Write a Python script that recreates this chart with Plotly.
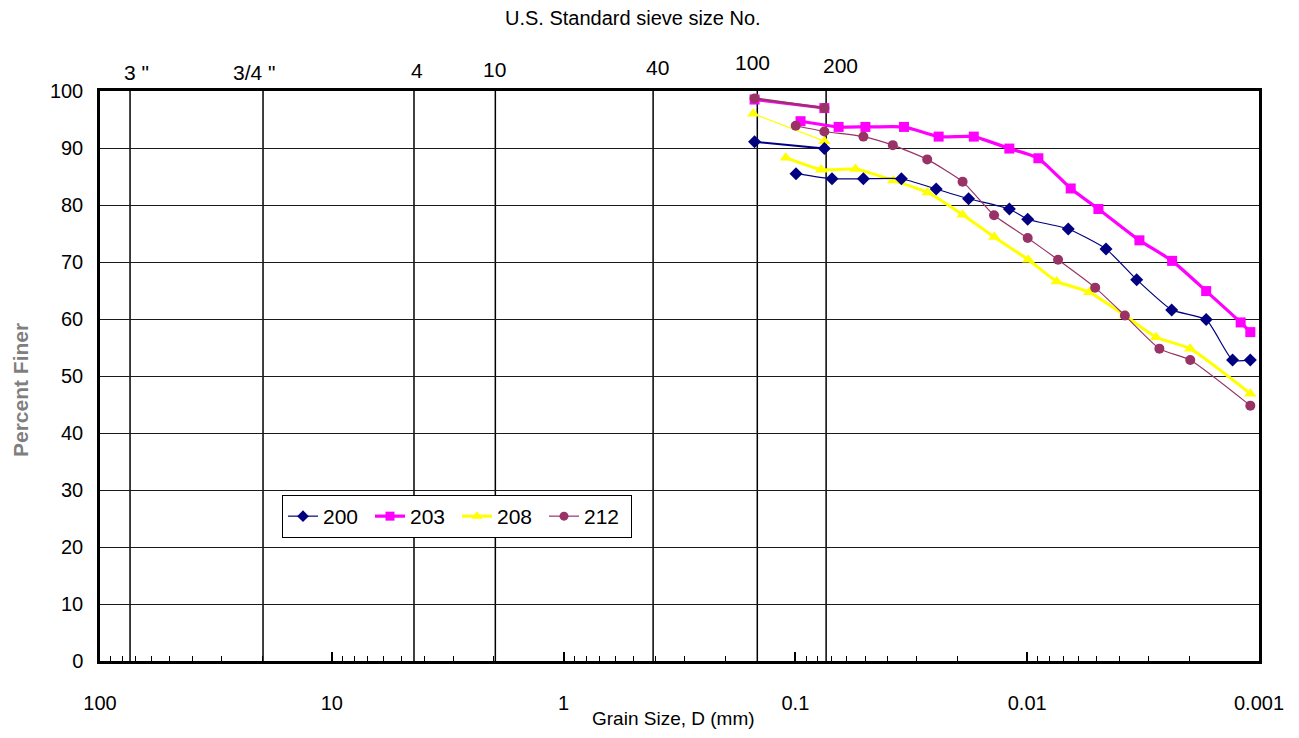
import math
import plotly.graph_objects as go

# ---------------- data ----------------
sieve_mm = [74.2, 19.8, 4.42, 1.97, 0.411, 0.146, 0.0737]
sieve_labels = ['3 "', '3/4 "', '4', '10', '40', '100', '200']

x_tick_vals = [100, 10, 1, 0.1, 0.01, 0.001]
x_tick_text = ['100', '10', '1', '0.1', '0.01', '0.001']

series_names = ['200', '203', '208', '212']

# sieve analysis part
s200_sieve_d = [0.15, 0.075]
s200_sieve_p = [91.1, 89.9]
s203_sieve_d = [0.15, 0.075]
s203_sieve_p = [98.5, 97.0]
s208_sieve_d = [0.152, 0.075]
s208_sieve_p = [96.0, 91.2]
s212_sieve_d = [0.15, 0.075]
s212_sieve_p = [98.7, 97.0]

# hydrometer part
s200_hyd_d = [0.0994, 0.0695, 0.0509, 0.0349, 0.0247, 0.0179, 0.01194, 0.00995,
              0.00665, 0.00457, 0.00337, 0.00238, 0.00169, 0.00130, 0.00109]
s200_hyd_p = [85.5, 84.6, 84.6, 84.6, 82.8, 81.1, 79.3, 77.5,
              75.8, 72.3, 66.9, 61.6, 59.9, 52.8, 52.8]

s203_hyd_d = [0.0950, 0.0651, 0.0499, 0.0340, 0.0241, 0.0170, 0.01194, 0.00895,
              0.00649, 0.00493, 0.00328, 0.00237, 0.00169, 0.00120, 0.00109]
s203_hyd_p = [94.7, 93.7, 93.7, 93.7, 92.0, 92.0, 89.9, 88.2,
              82.9, 79.3, 73.8, 70.2, 64.9, 59.4, 57.7]

s208_hyd_d = [0.110, 0.0773, 0.0550, 0.0378, 0.0269, 0.0190, 0.01387, 0.00989,
              0.00746, 0.00540, 0.00379, 0.00278, 0.00198, 0.00109]
s208_hyd_p = [88.3, 86.2, 86.3, 84.3, 82.2, 78.3, 74.4, 70.4,
              66.6, 64.7, 60.6, 56.8, 54.8, 46.9]

s212_hyd_d = [0.0997, 0.0750, 0.0509, 0.0380, 0.0270, 0.0190, 0.0139, 0.00995,
              0.00736, 0.00509, 0.00379, 0.00269, 0.00198, 0.00109]
s212_hyd_p = [93.9, 92.9, 92.0, 90.5, 88.0, 84.1, 78.2, 74.2,
              70.4, 65.5, 60.6, 54.8, 52.8, 44.8]

# ---------------- styles ----------------
FONT = "Liberation Sans, Arial, sans-serif"
styles = {
    '200': dict(color='#000080', symbol='diamond', size=10, w_hyd=1.2, w_sieve=2.0),
    '203': dict(color='#FF00FF', symbol='square', size=10, w_hyd=3.2, w_sieve=3.0),
    '208': dict(color='#FFFF00', symbol='triangle-up', size=11, w_hyd=3.0, w_sieve=1.2),
    '212': dict(color='#993366', symbol='circle', size=10, w_hyd=1.2, w_sieve=2.2),
}
data = {
    '200': (s200_sieve_d, s200_sieve_p, s200_hyd_d, s200_hyd_p),
    '203': (s203_sieve_d, s203_sieve_p, s203_hyd_d, s203_hyd_p),
    '208': (s208_sieve_d, s208_sieve_p, s208_hyd_d, s208_hyd_p),
    '212': (s212_sieve_d, s212_sieve_p, s212_hyd_d, s212_hyd_p),
}

fig = go.Figure()

# vertical sieve lines
for d in sieve_mm:
    fig.add_shape(type='line', xref='x', yref='y', x0=d, x1=d, y0=0, y1=100,
                  line=dict(color='black', width=1.5), layer='below')

draw_order = ['203', '208', '200', '212']
for name in draw_order:
    st = styles[name]
    sd, sp, hd, hp = data[name]
    fig.add_trace(go.Scatter(
        x=sd, y=sp, mode='lines+markers', name=name, showlegend=False,
        legendgroup=name,
        line=dict(color=st['color'], width=st['w_sieve']),
        marker=dict(color=st['color'], symbol=st['symbol'], size=st['size']),
    ))
    fig.add_trace(go.Scatter(
        x=hd, y=hp, mode='lines+markers', name=name, showlegend=False,
        legendgroup=name,
        line=dict(color=st['color'], width=st['w_hyd'], shape='spline', smoothing=0.5),
        marker=dict(color=st['color'], symbol=st['symbol'], size=st['size']),
    ))

# legend entries in order
for name in series_names:
    st = styles[name]
    fig.add_trace(go.Scatter(
        x=[None], y=[None], mode='lines+markers', name=name, legendgroup=name,
        line=dict(color=st['color'], width=st['w_hyd']),
        marker=dict(color=st['color'], symbol=st['symbol'], size=st['size'] - 1),
    ))

minor_vals = []
for dec in [10, 1, 0.1, 0.01, 0.001]:
    for k in range(2, 10):
        minor_vals.append(k * dec)

fig.update_xaxes(
    type='log', range=[2, -3],
    showgrid=False, zeroline=False,
    showline=True, linecolor='black', linewidth=2.5, mirror=True,
    tickmode='array', tickvals=x_tick_vals, ticktext=x_tick_text,
    ticks='inside', ticklen=9, tickwidth=1.5, tickcolor='black',
    ticklabelstandoff=22,
    tickfont=dict(family=FONT, size=20, color='black'),
    minor=dict(tickmode='array', tickvals=minor_vals, ticks='inside',
               ticklen=5, tickwidth=1.2, tickcolor='black', showgrid=False),
)
fig.update_yaxes(
    range=[0, 100], dtick=10, tick0=0,
    showgrid=True, gridcolor='#1a1a1a', gridwidth=1, zeroline=False,
    showline=True, linecolor='black', linewidth=2.5, mirror=True,
    ticks='', ticklabelstandoff=10,
    tickfont=dict(family=FONT, size=20, color='black'),
)

annotations = []
label_dx = [6, -9, 3, -1, 4, -5, 14]
label_dy = [19, 19, 21, 22, 24, 29, 26]
for d, lab, dx, dy in zip(sieve_mm, sieve_labels, label_dx, label_dy):
    annotations.append(dict(
        x=math.log10(d), xref='x', y=1, yref='paper', text=lab, showarrow=False,
        xanchor='center', yanchor='middle', xshift=dx, yshift=dy,
        font=dict(family=FONT, size=21, color='black')))

annotations.append(dict(
    x=(633 - 100) / 1159, xref='paper', y=1, yref='paper',
    text='U.S. Standard sieve size No.', showarrow=False,
    xanchor='center', yanchor='middle', yshift=73,
    font=dict(family=FONT, size=20, color='black')))
annotations.append(dict(
    x=(673 - 100) / 1159, xref='paper', y=0, yref='paper',
    text='Grain Size, D (mm)', showarrow=False,
    xanchor='center', yanchor='middle', yshift=-57,
    font=dict(family=FONT, size=19, color='black')))
annotations.append(dict(
    x=0, xref='paper', y=(661 - 390) / 570, yref='paper',
    text='<b>Percent Finer</b>', showarrow=False, textangle=-90,
    xanchor='center', yanchor='middle', xshift=-80,
    font=dict(family=FONT, size=21, color='#7f7f7f')))

fig.update_layout(
    width=1299, height=738,
    margin=dict(l=100, r=40, t=91, b=77),
    plot_bgcolor='white', paper_bgcolor='white',
    showlegend=True,
    legend=dict(
        orientation='h', x=(282 - 100) / 1159, y=(661 - 495) / 570,
        xanchor='left', yanchor='top',
        bgcolor='white', bordercolor='black', borderwidth=1,
        font=dict(family=FONT, size=21, color='black'),
        entrywidth=42, entrywidthmode='pixels',
        traceorder='normal',
    ),
    annotations=annotations,
)

fig.write_html("out.html")
